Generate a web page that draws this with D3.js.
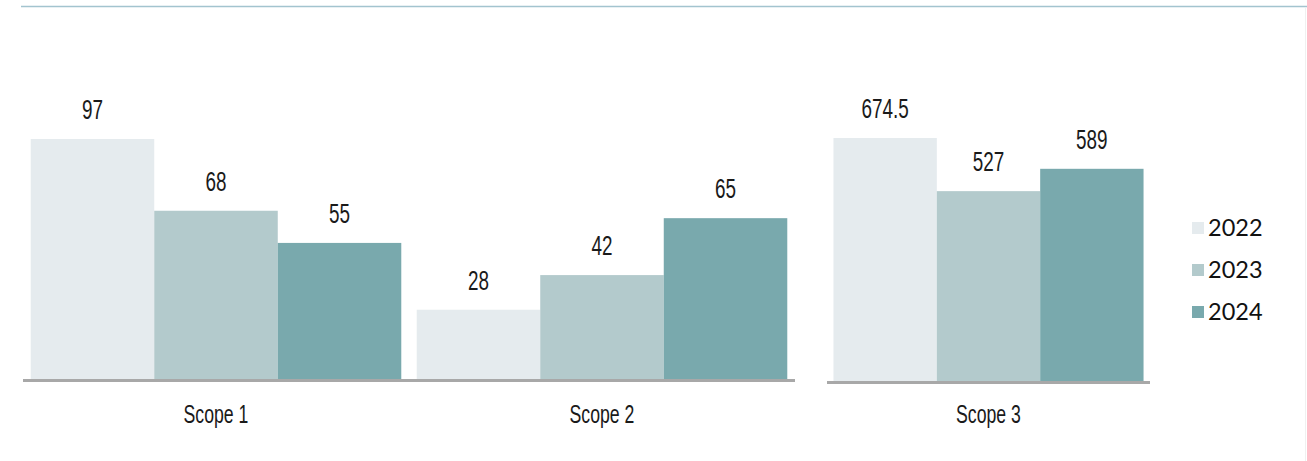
<!DOCTYPE html>
<html>
<head>
<meta charset="utf-8">
<script src="https://cdn.jsdelivr.net/npm/d3@7"></script>
<style>
  html, body { margin: 0; padding: 0; background: #fff; }
  svg { display: block; }
</style>
</head>
<body>
<svg></svg>
<script>
const years = ["2022", "2023", "2024"];
const leftScopes = ["Scope 1", "Scope 2"];
const rightScopes = ["Scope 3"];
const scope1 = [97, 68, 55];
const scope2 = [28, 42, 65];
const scope3 = [674.5, 527, 589];
const colors = ["#e5ebee", "#b3cacc", "#79a9ad"];

const W = 1307, H = 461;
const svg = d3.select("svg").attr("width", W).attr("height", H);

const color = d3.scaleOrdinal().domain(years).range(colors);

// top rule
svg.append("line")
  .attr("x1", 21).attr("x2", W).attr("y1", 6.5).attr("y2", 6.5)
  .attr("stroke", "#a3c4cf").attr("stroke-width", 1.6);
svg.append("line")
  .attr("x1", W - 1.5).attr("x2", W - 1.5).attr("y1", 8).attr("y2", H)
  .attr("stroke", "#f0f0f0").attr("stroke-width", 1);

const numFont = "'Liberation Sans', Arial, sans-serif";

const drawPanel = (scopes, values, xRange, yBase, yMax, pxPerUnit) => {
  const rows = scopes.map((s, i) => ({ scope: s, vals: values[i] }));
  const x0 = d3.scaleBand().domain(scopes).range(xRange)
    .paddingInner(0.04).paddingOuter(0.02);
  const x1 = d3.scaleBand().domain(years).range([0, x0.bandwidth()]);
  const y = d3.scaleLinear().domain([0, yMax]).range([yBase, yBase - yMax * pxPerUnit]);

  const g = svg.append("g");
  const groups = g.selectAll("g.grp").data(rows).enter().append("g")
    .attr("transform", d => `translate(${x0(d.scope)},0)`);

  groups.selectAll("rect")
    .data(d => d.vals.map((v, i) => ({ year: years[i], v })))
    .enter().append("rect")
    .attr("x", d => x1(d.year))
    .attr("y", d => y(d.v))
    .attr("width", x1.bandwidth())
    .attr("height", d => yBase - y(d.v))
    .attr("fill", d => color(d.year));

  groups.selectAll("text.val")
    .data(d => d.vals.map((v, i) => ({ year: years[i], v })))
    .enter().append("text")
    .attr("class", "val")
    .attr("transform", d => `translate(${x1(d.year) + x1.bandwidth() / 2},${y(d.v) - 20}) scale(0.7,1)`)
    .attr("text-anchor", "middle")
    .attr("font-family", numFont)
    .attr("font-size", 27)
    .attr("fill", "#1a1a1a")
    .text(d => d.v);

  // baseline
  g.append("line")
    .attr("x1", xRange[0]).attr("x2", xRange[1])
    .attr("y1", yBase + 1.5).attr("y2", yBase + 1.5)
    .attr("stroke", "#a8a8a8").attr("stroke-width", 3);

  // category labels
  g.selectAll("text.cat").data(scopes).enter().append("text")
    .attr("class", "cat")
    .attr("transform", d => `translate(${x0(d) + x0.bandwidth() / 2},423) scale(0.68,1)`)
    .attr("text-anchor", "middle")
    .attr("font-family", numFont)
    .attr("font-size", 26)
    .attr("fill", "#1a1a1a")
    .text(d => d);
};

drawPanel(leftScopes, [scope1, scope2], [23, 795], 379, 120, 240 / 97);
drawPanel(rightScopes, [scope3], [827, 1150], 381, 800, 243 / 674.5);

// legend
const legend = svg.append("g").attr("transform", "translate(1192,222)");
const items = legend.selectAll("g").data(years).enter().append("g")
  .attr("transform", (d, i) => `translate(0,${i * 42})`);
items.append("rect")
  .attr("width", 12).attr("height", 12)
  .attr("fill", d => color(d));
items.append("text")
  .attr("x", 16).attr("y", 14)
  .attr("font-family", "Lato, sans-serif")
  .attr("font-size", 23.5)
  .attr("fill", "#111")
  .text(d => d);
</script>
</body>
</html>
